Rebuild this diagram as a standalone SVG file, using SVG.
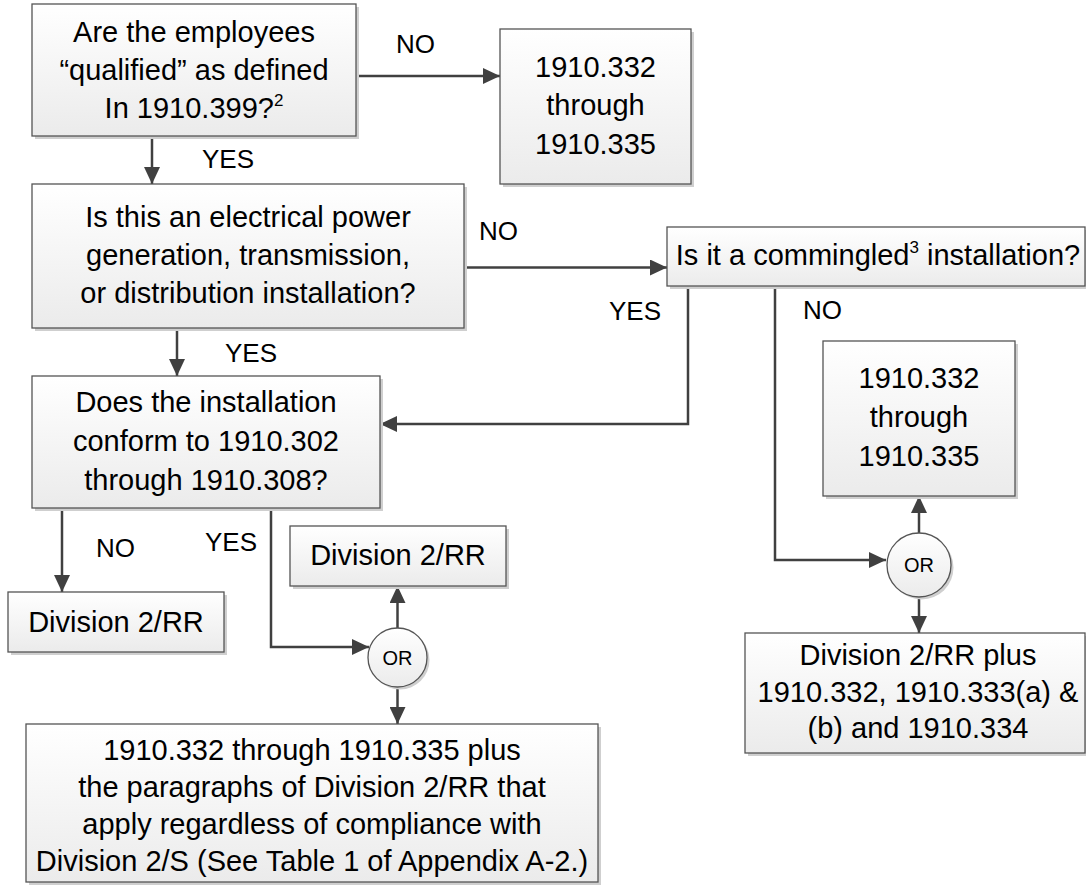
<svg xmlns="http://www.w3.org/2000/svg" width="1086" height="892" viewBox="0 0 1086 892">
<defs>
<linearGradient id="g" x1="0" y1="0" x2="0" y2="1">
<stop offset="0" stop-color="#ffffff"/>
<stop offset="1" stop-color="#ebebeb"/>
</linearGradient>
<marker id="ah" markerUnits="userSpaceOnUse" markerWidth="17" markerHeight="16" refX="17" refY="8" orient="auto">
<path d="M0,0 L17,8 L0,16 z" fill="#404040"/>
</marker>
<style>
.box{fill:url(#g);stroke:#555;stroke-width:1.3}
.sh{fill:#cfcfcf}
.t{font-family:"Liberation Sans",Arial,sans-serif;font-size:29px;fill:#000;text-anchor:middle}
.lb{font-family:"Liberation Sans",Arial,sans-serif;font-size:26px;fill:#000}
.or{font-family:"Liberation Sans",Arial,sans-serif;font-size:20px;fill:#000;text-anchor:middle}
.c{fill:none;stroke:#404040;stroke-width:2.5;marker-end:url(#ah)}
</style>
</defs>
<rect width="1086" height="892" fill="#fff"/>

<g id="connectors">
<path class="c" d="M356,76 H500"/>
<path class="c" d="M152,136 V184"/>
<path class="c" d="M464,267.5 H667"/>
<path class="c" d="M177,328 V376"/>
<path class="c" d="M688,286 V424 H380"/>
<path class="c" d="M775,286 V560 H886"/>
<path class="c" d="M919,533 V496"/>
<path class="c" d="M919,597 V633"/>
<path class="c" d="M62,508 V592"/>
<path class="c" d="M271,508 V647 H369"/>
<path class="c" d="M397.5,628 V586"/>
<path class="c" d="M397.5,687 V724"/>
<text class="lb" x="396" y="53">NO</text>
<text class="lb" x="202" y="168">YES</text>
<text class="lb" x="479" y="240">NO</text>
<text class="lb" x="225" y="362">YES</text>
<text class="lb" x="609" y="320">YES</text>
<text class="lb" x="803" y="319">NO</text>
<text class="lb" x="96" y="557">NO</text>
<text class="lb" x="205" y="551">YES</text>
</g>

<g id="q-qualified">
<rect class="sh" x="35" y="7" width="324" height="132"/>
<rect class="box" x="32" y="4" width="324" height="132"/>
<text class="t" x="194" y="42">Are the employees</text>
<text class="t" x="194" y="80">“qualified” as defined</text>
<text class="t" x="194" y="118">In 1910.399?<tspan font-size="17" dy="-12">2</tspan></text>
</g>

<g id="r-332-top">
<rect class="sh" x="503" y="32" width="191" height="155"/>
<rect class="box" x="500" y="29" width="191" height="155"/>
<text class="t" x="595.5" y="77">1910.332</text>
<text class="t" x="595.5" y="115">through</text>
<text class="t" x="595.5" y="154">1910.335</text>
</g>

<g id="q-power">
<rect class="sh" x="35" y="187" width="432" height="144"/>
<rect class="box" x="32" y="184" width="432" height="144"/>
<text class="t" x="248" y="227">Is this an electrical power</text>
<text class="t" x="248" y="265">generation, transmission,</text>
<text class="t" x="248" y="303">or distribution installation?</text>
</g>

<g id="q-commingled">
<rect class="sh" x="670" y="230" width="418" height="59"/>
<rect class="box" x="667" y="227" width="418" height="59"/>
<text class="t" x="878" y="265">Is it a commingled<tspan font-size="17" dy="-12">3</tspan><tspan dy="12"> installation?</tspan></text>
</g>

<g id="r-332-right">
<rect class="sh" x="826" y="344" width="192" height="155"/>
<rect class="box" x="823" y="341" width="192" height="155"/>
<text class="t" x="919" y="388">1910.332</text>
<text class="t" x="919" y="427">through</text>
<text class="t" x="919" y="466">1910.335</text>
</g>

<g id="q-conform">
<rect class="sh" x="35" y="379" width="348" height="132"/>
<rect class="box" x="32" y="376" width="348" height="132"/>
<text class="t" x="206" y="412">Does the installation</text>
<text class="t" x="206" y="451">conform to 1910.302</text>
<text class="t" x="206" y="490">through 1910.308?</text>
</g>

<g id="r-div2rr-left">
<rect class="sh" x="11" y="595" width="216" height="60"/>
<rect class="box" x="8" y="592" width="216" height="60"/>
<text class="t" x="116" y="632">Division 2/RR</text>
</g>

<g id="r-div2rr-top">
<rect class="sh" x="293" y="529" width="216" height="60"/>
<rect class="box" x="290" y="526" width="216" height="60"/>
<text class="t" x="398" y="565">Division 2/RR</text>
</g>

<g id="or-left">
<circle class="sh" cx="400" cy="660" r="29.5"/>
<circle class="box" cx="397.5" cy="657.5" r="29.5"/>
<text class="or" x="397.5" y="665">OR</text>
</g>

<g id="or-right">
<circle class="sh" cx="921.5" cy="567.5" r="32"/>
<circle class="box" cx="919" cy="565" r="32"/>
<text class="or" x="919" y="572">OR</text>
</g>

<g id="r-bottom">
<rect class="sh" x="29" y="727" width="572" height="158"/>
<rect class="box" x="26" y="724" width="572" height="158"/>
<text class="t" x="312" y="760">1910.332 through 1910.335 plus</text>
<text class="t" x="312" y="797">the paragraphs of Division 2/RR that</text>
<text class="t" x="312" y="834">apply regardless of compliance with</text>
<text class="t" x="312" y="871">Division 2/S (See Table 1 of Appendix A-2.)</text>
</g>

<g id="r-bottom-right">
<rect class="sh" x="748" y="636" width="340" height="120"/>
<rect class="box" x="745" y="633" width="340" height="120"/>
<text class="t" x="918" y="665">Division 2/RR plus</text>
<text class="t" x="918" y="702">1910.332, 1910.333(a) &amp;</text>
<text class="t" x="918" y="738">(b) and 1910.334</text>
</g>
</svg>
